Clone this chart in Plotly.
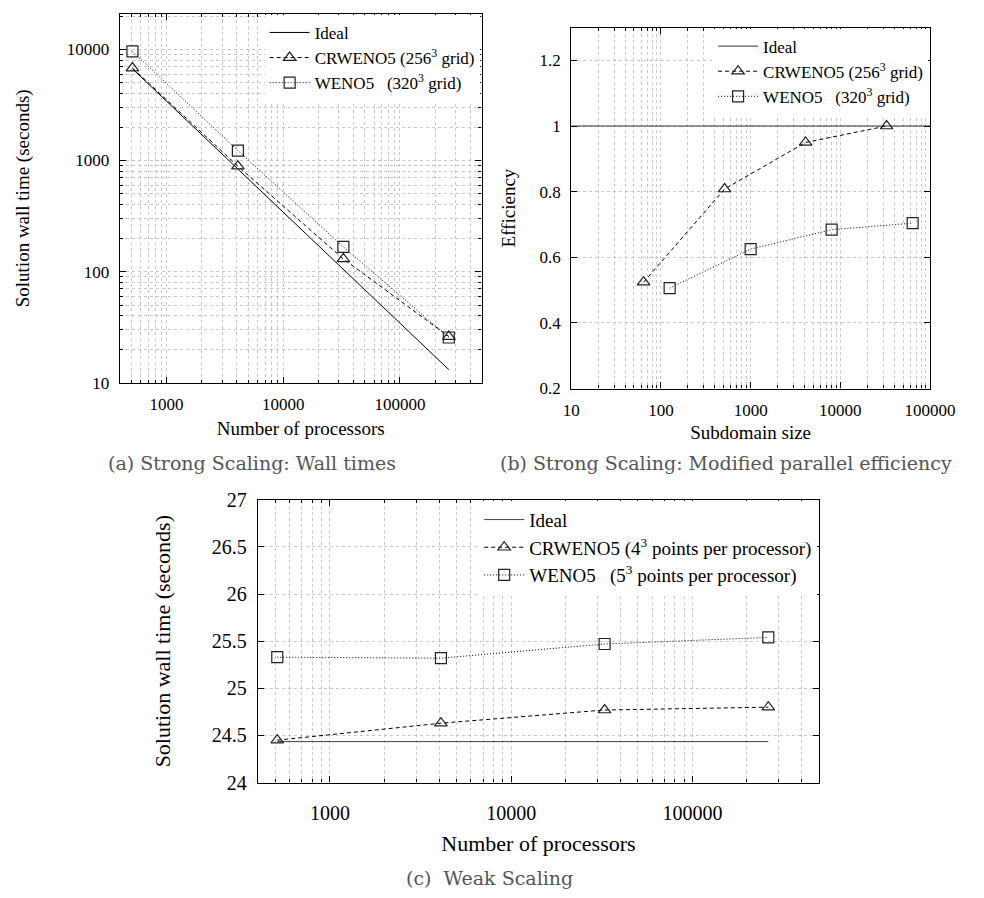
import plotly.graph_objects as go

# ---------------- data ----------------
procs = [512, 4096, 32768, 262144]
strong_ideal = [6700, 840, 105, 13.1]
strong_crweno = [6800, 890, 130, 26.0]
strong_weno = [9600, 1230, 167, 25.5]

cr_sub = [64, 512, 4096, 32768]
cr_eff = [0.524, 0.808, 0.950, 1.0]
weno_sub = [125, 1000, 8000, 64000]
weno_eff = [0.506, 0.625, 0.684, 0.704]
eff_ideal_x = [10, 100000]
eff_ideal = [1.0, 1.0]

weak_ideal = [24.435, 24.435, 24.435, 24.435]
weak_crweno = [24.45, 24.63, 24.77, 24.80]
weak_weno = [25.33, 25.32, 25.47, 25.54]

names_strong = ["Ideal", "CRWENO5 (256<sup>3</sup> grid)", "WENO5   (320<sup>3</sup> grid)"]
names_weak = ["Ideal", "CRWENO5 (4<sup>3</sup> points per processor)",
              "WENO5   (5<sup>3</sup> points per processor)"]

W, H = 984, 898
SERIF = "'Liberation Serif', 'Times New Roman', Times, serif"
CAPFONT = "'DejaVu Serif', serif"
GRID = "#c8c8c8"


def dx(a, b):
    return [a / W, b / W]


def dy(top, bottom):
    return [1 - bottom / H, 1 - top / H]


fig = go.Figure()


def add_series(xa, ya, xs, ys, name, legend, dash, symbol, color="black"):
    fig.add_trace(go.Scatter(
        x=xs, y=ys, name=name, xaxis=xa, yaxis=ya, legend=legend,
        mode="lines" if symbol is None else "lines+markers",
        line=dict(color=color, width=1, dash=dash),
        marker=dict(symbol=symbol, size=11, color="#222",
                    line=dict(color="#222", width=1.2)) if symbol else None,
    ))


DASH = "4px,3px"
DOT = "1px,2px"
# (a)
add_series("x", "y", procs, strong_ideal, names_strong[0], "legend", "solid", None)
add_series("x", "y", procs, strong_crweno, names_strong[1], "legend", DASH, "triangle-up-open")
add_series("x", "y", procs, strong_weno, names_strong[2], "legend", DOT, "square-open")
# (b)
add_series("x2", "y2", eff_ideal_x, eff_ideal, names_strong[0], "legend2", "solid", None, "#333")
add_series("x2", "y2", cr_sub, cr_eff, names_strong[1], "legend2", DASH, "triangle-up-open")
add_series("x2", "y2", weno_sub, weno_eff, names_strong[2], "legend2", DOT, "square-open")
# (c)
add_series("x3", "y3", procs, weak_ideal, names_weak[0], "legend3", "solid", None, "#444")
add_series("x3", "y3", procs, weak_crweno, names_weak[1], "legend3", DASH, "triangle-up-open")
add_series("x3", "y3", procs, weak_weno, names_weak[2], "legend3", DOT, "square-open")


def axis(domain, typ, rng, title, fs, tfs, standoff, dtick, minor, anchor, tlso=6):
    d = dict(
        domain=domain, type=typ, range=rng, anchor=anchor,
        showline=True, linecolor="black", linewidth=1.3, mirror="ticks",
        ticks="inside", ticklen=6, tickcolor="black",
        showgrid=True, gridcolor=GRID, griddash="dot", gridwidth=1,
        zeroline=False, dtick=dtick,
        tickfont=dict(family=SERIF, size=tfs, color="black"),
        title=dict(text=title, font=dict(family=SERIF, size=fs, color="black"),
                   standoff=standoff),
        ticklabelstandoff=tlso,
    )
    if typ == "log":
        d["tickformat"] = "d"
    if minor:
        d["minor"] = dict(ticks="inside", ticklen=3, tickcolor="black",
                          showgrid=True, gridcolor=GRID, griddash="dot", gridwidth=1)
    return d


def legend_box(xr, ytop, size):
    return dict(x=xr / W, y=1 - ytop / H, xanchor="right", yanchor="top",
                bgcolor="white", font=dict(family=SERIF, size=size, color="black"),
                itemwidth=40, tracegroupgap=0, borderwidth=0)


fig.update_layout(
    width=W, height=H, autosize=False,
    margin=dict(l=0, r=0, t=0, b=0),
    paper_bgcolor="white", plot_bgcolor="white",
    font=dict(family=SERIF),
    xaxis=axis(dx(115, 490), "log", [2.602, 5.699], "Number of processors", 19, 17, 8, 1, True, "y"),
    yaxis=axis(dy(3, 381), "log", [1, 4.32], "Solution wall time (seconds)", 19, 17, 32, 1, True, "x"),
    xaxis2=axis(dx(583, 955), "log", [1, 5], "Subdomain size", 19, 17, 6, 1, True, "y2"),
    yaxis2=axis(dy(17, 387), "linear", [0.2, 1.3], "Efficiency", 19, 17, 18, 0.2, False, "x2"),
    xaxis3=axis(dx(258, 840), "log", [2.602, 5.699], "Number of processors", 22, 20, 12, 1, True, "y3", 12),
    yaxis3=axis(dy(501, 791), "linear", [24, 27], "Solution wall time (seconds)", 22, 20, 34, 0.5, False, "x3"),
    legend=legend_box(488, 4, 17),
    legend2=legend_box(953, 18, 17),
    legend3=legend_box(838, 502, 19),
    showlegend=True,
)

captions = [
    ("(a) Strong Scaling: Wall times", 252, 463),
    ("(b) Strong Scaling: Modified parallel efficiency", 743, 463),
    ("(c)  Weak Scaling", 498, 889),
]
for text, cx, cy in captions:
    fig.add_annotation(text=text, xref="paper", yref="paper", x=cx / W, y=1 - cy / H,
                       xanchor="center", yanchor="middle", showarrow=False,
                       font=dict(family=CAPFONT, size=19, color="#555"))

fig.write_html("out.html")
